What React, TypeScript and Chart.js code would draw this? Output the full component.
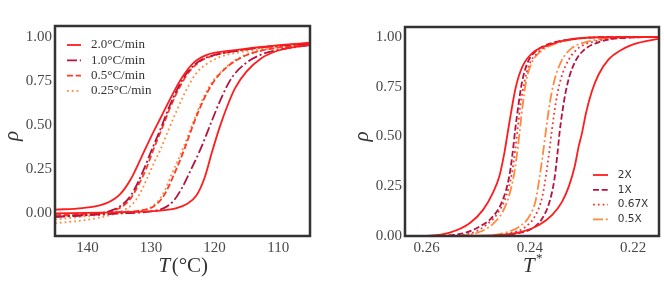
import React, { useEffect, useRef } from "react";
import { Chart, registerables } from "chart.js";

Chart.register(...registerables);

type P = [number, number];

// ---------------- Left panel: rho vs T (°C) ----------------
const leftXTicks = [140, 130, 120, 110];
const leftYTicks = [0, 0.25, 0.5, 0.75, 1.0];
const leftLabels = ["2.0°C/min", "1.0°C/min", "0.5°C/min", "0.25°C/min"];

const l20Up: P[] = [[145.1,0.022],[140.8,0.03],[137.1,0.057],[134.85,0.11],[133.1,0.2],[131.5,0.32],[130,0.435],[128.4,0.549],[126.8,0.663],[125.2,0.767],[123.4,0.852],[121.2,0.9],[117.5,0.924],[112.2,0.947],[105,0.97]];
const l20Down: P[] = [[145.1,0.0],[138,0.005],[131.7,0.01],[128.5,0.016],[126,0.03],[124.3,0.055],[122.9,0.1],[121.6,0.2],[120.4,0.35],[119.2,0.49],[118,0.61],[116.8,0.71],[115,0.805],[112.7,0.88],[110,0.925],[105,0.958]];
const l10Up: P[] = [[145.1,-0.02],[141,-0.01],[138,0.0],[136,0.02],[134.5,0.05],[133.2,0.1],[132,0.18],[130.9,0.27],[129.9,0.36],[128.5,0.48],[127.2,0.6],[125.8,0.71],[124.3,0.8],[122.6,0.86],[120.5,0.895],[117,0.92],[112,0.945],[105,0.965]];
const l10Down: P[] = [[145.1,-0.02],[140,-0.01],[135,0.0],[130,0.012],[128,0.03],[126.5,0.07],[125.2,0.14],[123.7,0.25],[122.1,0.375],[120.5,0.52],[118.95,0.655],[117.4,0.765],[115.2,0.85],[112.8,0.9],[109.7,0.93],[105,0.956]];
const l05Up: P[] = [[145.1,-0.015],[141,-0.008],[138,0.0],[136,0.015],[134.5,0.04],[133.2,0.085],[132,0.16],[130.8,0.25],[129.65,0.36],[128.3,0.48],[127,0.6],[125.6,0.71],[124.1,0.8],[122.4,0.86],[120.3,0.895],[117,0.92],[112,0.945],[105,0.965]];
const l05Down: P[] = [[145.1,-0.01],[140,0.0],[135,0.008],[131.5,0.018],[129.6,0.04],[128,0.1],[126.4,0.22],[124.8,0.36],[123.3,0.51],[121.8,0.64],[120.2,0.745],[118.1,0.83],[115.8,0.885],[112.5,0.925],[105,0.96]];
const l025Up: P[] = [[145.1,-0.055],[142,-0.045],[139,-0.03],[136.5,-0.01],[134.5,0.015],[133,0.05],[131.8,0.11],[130.6,0.2],[129.5,0.29],[128.55,0.36],[127.3,0.47],[126,0.58],[124.6,0.69],[123,0.79],[121.2,0.85],[119,0.89],[116,0.915],[111,0.94],[105,0.96]];
const l025Down: P[] = [[145.1,-0.035],[140,-0.015],[135,0.0],[131.5,0.015],[129.8,0.04],[128.2,0.105],[126.6,0.235],[124.9,0.375],[123.35,0.52],[121.8,0.655],[120.2,0.755],[118.1,0.833],[115.8,0.89],[112.5,0.928],[105,0.962]];

// ---------------- Right panel: rho vs T* ----------------
const rightXTicks = [0.26, 0.24, 0.22];
const rightYTicks = [0, 0.25, 0.5, 0.75, 1.0];
const rightLabels = ["2X", "1X", "0.67X", "0.5X"];

const r2Up: P[] = [[0.26416,0],[0.25936,0.002],[0.25552,0.017],[0.25168,0.064],[0.24912,0.13],[0.2472,0.215],[0.24592,0.3],[0.24496,0.416],[0.24432,0.517],[0.24368,0.617],[0.24272,0.75],[0.24144,0.852],[0.2395,0.92],[0.23632,0.96],[0.23248,0.987],[0.22736,0.998],[0.2152,1.0]];
const r2Down: P[] = [[0.26416,0],[0.24656,0.003],[0.24144,0.022],[0.23824,0.055],[0.23568,0.106],[0.23376,0.173],[0.23248,0.248],[0.23133,0.349],[0.23056,0.45],[0.22992,0.517],[0.22915,0.617],[0.228,0.727],[0.22672,0.81],[0.2248,0.886],[0.22224,0.936],[0.21904,0.97],[0.2152,0.99]];
const r1Up: P[] = [[0.26416,0],[0.25936,0],[0.253,0.013],[0.2498,0.047],[0.2472,0.097],[0.24528,0.18],[0.244,0.3],[0.24336,0.416],[0.24285,0.534],[0.24227,0.65],[0.24157,0.768],[0.24048,0.87],[0.23888,0.928],[0.23568,0.97],[0.2312,0.99],[0.22608,0.999],[0.2152,1.0]];
const r1Down: P[] = [[0.26416,0],[0.24784,0],[0.24272,0.012],[0.2395,0.039],[0.2376,0.089],[0.23619,0.173],[0.23523,0.29],[0.23466,0.416],[0.23427,0.517],[0.23376,0.617],[0.23312,0.718],[0.23235,0.802],[0.2312,0.878],[0.2296,0.933],[0.22672,0.973],[0.22288,0.993],[0.2152,1.0]];
const r067Up: P[] = [[0.26416,0],[0.25616,0.002],[0.25104,0.017],[0.24848,0.055],[0.24624,0.114],[0.24464,0.198],[0.24349,0.315],[0.24285,0.433],[0.2424,0.534],[0.24189,0.65],[0.24112,0.768],[0.24016,0.86],[0.23856,0.92],[0.23568,0.966],[0.2312,0.99],[0.22608,0.999],[0.2152,1.0]];
const r067Down: P[] = [[0.26416,0],[0.24848,0],[0.244,0.013],[0.2408,0.047],[0.23888,0.106],[0.2376,0.198],[0.23683,0.315],[0.23626,0.424],[0.23581,0.517],[0.2353,0.617],[0.23466,0.718],[0.23376,0.81],[0.23248,0.886],[0.23056,0.945],[0.22736,0.978],[0.22288,0.995],[0.2152,1.0]];
const r05Up: P[] = [[0.26416,0],[0.25424,0.002],[0.2498,0.02],[0.2472,0.06],[0.24528,0.122],[0.244,0.206],[0.24304,0.315],[0.2424,0.433],[0.24195,0.534],[0.24144,0.65],[0.2408,0.768],[0.23984,0.86],[0.23824,0.92],[0.23568,0.96],[0.2312,0.99],[0.22608,0.999],[0.2152,1.0]];
const r05Down: P[] = [[0.26416,0],[0.2498,0],[0.24528,0.013],[0.24208,0.047],[0.24016,0.097],[0.23888,0.18],[0.23811,0.3],[0.23747,0.416],[0.23696,0.517],[0.23645,0.617],[0.23581,0.718],[0.23504,0.802],[0.23376,0.886],[0.23184,0.945],[0.22864,0.978],[0.22416,0.995],[0.2152,1.0]];

// ---------------- styles ----------------
const RED = "#ff1c1c";
const CRIMSON = "#b5123e";
const REDORANGE = "#ff3b22";
const ORANGE = "#ff8a3d";
const DOTRED = "#f53535";

const SOLID: number[] = [];
const DASHED = [6, 2.7];
const DASHDOT = [10, 2.8, 2, 2.8];
const DOTTED = [1.8, 3];

const SERIF = "'Liberation Serif', 'DejaVu Serif', serif";
const SANS = "'DejaVu Sans', sans-serif";

type Series = { label: string; color: string; dash: number[]; branches: P[][] };

type Spec = {
  series: Series[];
  xMin: number; xMax: number; yMin: number; yMax: number;
  xTicks: number[]; yTicks: number[];
  xFmt: (v: number) => string;
  padTop: number; padRight: number; yWidth: number; xHeight: number;
  xTitle: { t: string; italic?: boolean; sup?: boolean }[];
  legend: { x: number; y: number; dy: number; len: number; gap: number; font: string };
};

const leftSpec: Spec = {
  series: [
    { label: leftLabels[0], color: RED, dash: SOLID, branches: [l20Up, l20Down] },
    { label: leftLabels[1], color: CRIMSON, dash: DASHDOT, branches: [l10Up, l10Down] },
    { label: leftLabels[2], color: REDORANGE, dash: DASHED, branches: [l05Up, l05Down] },
    { label: leftLabels[3], color: ORANGE, dash: DOTTED, branches: [l025Up, l025Down] },
  ],
  xMin: 105, xMax: 145.1, yMin: -0.128, yMax: 1.064,
  xTicks: leftXTicks, yTicks: leftYTicks,
  xFmt: (v) => String(Math.round(v)),
  padTop: 26, padRight: 22, yWidth: 55, xHeight: 63,
  xTitle: [{ t: "T", italic: true }, { t: "(°C)" }],
  legend: { x: 67, y: 45, dy: 15.3, len: 14, gap: 10, font: `13px ${SERIF}` },
};

const rightSpec: Spec = {
  series: [
    { label: rightLabels[0], color: RED, dash: SOLID, branches: [r2Up, r2Down] },
    { label: rightLabels[1], color: CRIMSON, dash: DASHED, branches: [r1Up, r1Down] },
    { label: rightLabels[2], color: DOTRED, dash: DOTTED, branches: [r067Up, r067Down] },
    { label: rightLabels[3], color: ORANGE, dash: DASHDOT, branches: [r05Up, r05Down] },
  ],
  xMin: 0.215, xMax: 0.2642, yMin: 0, yMax: 1.05,
  xTicks: rightXTicks, yTicks: rightYTicks,
  xFmt: (v) => v.toFixed(2),
  padTop: 27, padRight: 5, yWidth: 73, xHeight: 63,
  xTitle: [{ t: "T", italic: true }, { t: "*", sup: true }],
  legend: { x: 261, y: 175, dy: 14.8, len: 15, gap: 9.7, font: `10.5px ${SANS}` },
};

function buildConfig(p: Spec): any {
  const framePlugin = {
    id: "frame",
    afterDatasetsDraw(chart: any) {
      const { ctx, chartArea: a } = chart;
      ctx.save();
      ctx.strokeStyle = "#333333";
      ctx.lineWidth = 2.5;
      ctx.setLineDash([]);
      ctx.strokeRect(a.left, a.top, a.right - a.left, a.bottom - a.top);
      ctx.restore();
    },
  };
  const titlePlugin = {
    id: "axisTitles",
    afterDraw(chart: any) {
      const { ctx, chartArea: a } = chart;
      ctx.save();
      ctx.fillStyle = "#333333";
      ctx.textBaseline = "middle";
      const fontFor = (s: any) =>
        s.sup ? `13px ${SERIF}` : `${s.italic ? "italic " : ""}21px ${SERIF}`;
      let total = 0;
      const widths = p.xTitle.map((s) => {
        ctx.font = fontFor(s);
        const w = ctx.measureText(s.t).width;
        total += w;
        return w;
      });
      let x = (a.left + a.right) / 2 - total / 2;
      const y = a.bottom + 30;
      p.xTitle.forEach((s, i) => {
        ctx.font = fontFor(s);
        ctx.textAlign = "left";
        ctx.fillText(s.t, x, s.sup ? y - 7 : y);
        x += widths[i] + (s.italic ? 1.5 : 0);
      });
      ctx.translate(a.left - 43, (a.top + a.bottom) / 2 + 5);
      ctx.rotate(-Math.PI / 2);
      ctx.font = `italic 21px ${SERIF}`;
      ctx.textAlign = "center";
      ctx.fillText("ρ", 0, 0);
      ctx.restore();
    },
  };
  const legendPlugin = {
    id: "sketchLegend",
    afterDraw(chart: any) {
      const ctx = chart.ctx;
      const L = p.legend;
      ctx.save();
      p.series.forEach((s, i) => {
        const y = L.y + i * L.dy;
        ctx.beginPath();
        ctx.setLineDash(s.dash);
        ctx.strokeStyle = s.color;
        ctx.lineWidth = 1.8;
        ctx.moveTo(L.x, y);
        ctx.lineTo(L.x + L.len, y);
        ctx.stroke();
        ctx.setLineDash([]);
        ctx.fillStyle = "#333333";
        ctx.font = L.font;
        ctx.textBaseline = "middle";
        ctx.textAlign = "left";
        ctx.fillText(s.label, L.x + L.len + L.gap, y);
      });
      ctx.restore();
    },
  };

  const datasets = p.series.flatMap((s) =>
    s.branches.map((b) => ({
      label: s.label,
      data: b.map(([x, y]) => ({ x, y })),
      borderColor: s.color,
      borderWidth: 1.8,
      borderDash: s.dash,
      pointRadius: 0,
      fill: false,
      cubicInterpolationMode: "monotone",
    }))
  );

  const tickFont = { family: SERIF, size: 15 };
  return {
    type: "line",
    data: { datasets },
    options: {
      responsive: false,
      animation: false,
      events: [],
      layout: { padding: { top: p.padTop, right: p.padRight, left: 0, bottom: 0 } },
      plugins: { legend: { display: false }, tooltip: { enabled: false } },
      scales: {
        x: {
          type: "linear",
          reverse: true,
          min: p.xMin,
          max: p.xMax,
          grid: { display: false, drawTicks: false },
          border: { display: false },
          afterBuildTicks: (s: any) => {
            s.ticks = p.xTicks.map((v) => ({ value: v }));
          },
          afterFit: (s: any) => {
            s.height = p.xHeight;
          },
          ticks: {
            padding: 3,
            autoSkip: false,
            maxRotation: 0,
            color: "#484848",
            font: tickFont,
            callback: (v: any) => p.xFmt(Number(v)),
          },
        },
        y: {
          type: "linear",
          min: p.yMin,
          max: p.yMax,
          grid: { display: false, drawTicks: false },
          border: { display: false },
          afterBuildTicks: (s: any) => {
            s.ticks = p.yTicks.map((v) => ({ value: v }));
          },
          afterFit: (s: any) => {
            s.width = p.yWidth;
          },
          ticks: {
            padding: 3,
            autoSkip: false,
            color: "#484848",
            font: tickFont,
            callback: (v: any) => Number(v).toFixed(2),
          },
        },
      },
    },
    plugins: [framePlugin, titlePlugin, legendPlugin],
  };
}

function Panel({ spec, left }: { spec: Spec; left: number }) {
  const ref = useRef<HTMLCanvasElement | null>(null);
  useEffect(() => {
    if (!ref.current) return;
    const chart = new Chart(ref.current, buildConfig(spec));
    return () => chart.destroy();
  }, [spec]);
  return (
    <canvas
      ref={ref}
      width={332}
      height={299}
      style={{ position: "absolute", left, top: 0, width: 332, height: 299 }}
    />
  );
}

export default function App() {
  return (
    <div
      style={{
        position: "absolute",
        left: 0,
        top: 0,
        width: 664,
        height: 299,
        background: "#ffffff",
        overflow: "hidden",
      }}
    >
      <Panel spec={leftSpec} left={0} />
      <Panel spec={rightSpec} left={332} />
    </div>
  );
}
